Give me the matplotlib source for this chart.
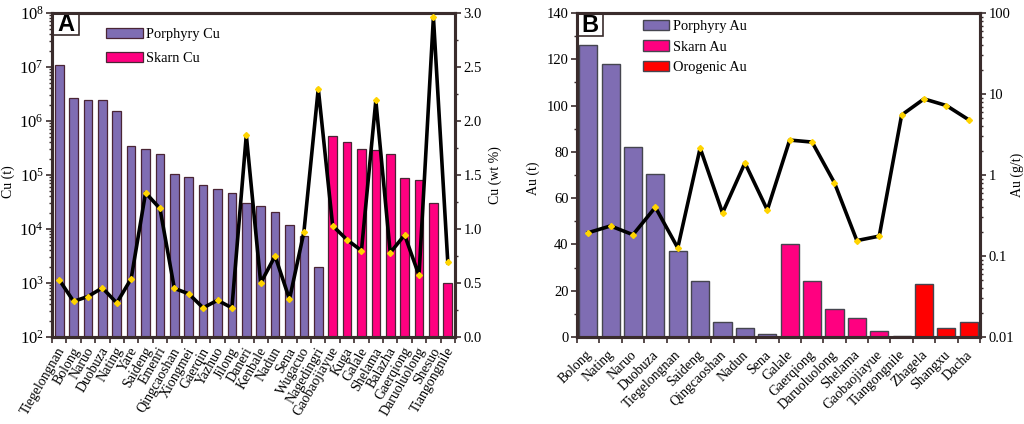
import math
import matplotlib.pyplot as plt
from matplotlib.patches import Rectangle
from matplotlib.ticker import FuncFormatter, LogLocator, MultipleLocator, NullFormatter
from matplotlib.transforms import ScaledTranslation

plt.rcParams['font.family'] = ['Liberation Serif', 'DejaVu Serif']
plt.rcParams['font.size'] = 10.5
plt.rcParams['mathtext.fontset'] = 'custom'
plt.rcParams['mathtext.rm'] = 'Liberation Serif'
plt.rcParams['mathtext.default'] = 'rm'

# --- Panel A data ---
cu_names = ["Tiegelongnan", "Bolong", "Naruo", "Duobuza", "Nating", "Yare", "Saideng",
            "Emenri", "Qingcaoshan", "Xiongmei", "Gaerqin", "Yazhuo", "Jilong", "Daneri",
            "Kenbale", "Nadun", "Sena", "Wugacuo", "Nagedingri", "Gaobaojiayue", "Kuga",
            "Galale", "Shelama", "Balazha", "Gaerqiong", "Daruoluolong", "Shesuo",
            "Tiangongnile"]
cu_porphyry = [1.1e7, 2.7e6, 2.5e6, 2.5e6, 1.55e6, 3.4e5, 3.0e5, 2.5e5, 1.03e5, 9.3e4,
               6.4e4, 5.6e4, 4.6e4, 3.0e4, 2.7e4, 2.1e4, 1.2e4, 7.3e3, 2.0e3]
cu_skarn = [5.2e5, 4.0e5, 3.0e5, 2.9e5, 2.4e5, 8.7e4, 8.0e4, 3.0e4, 1.0e3]
cu_grade = [0.53, 0.33, 0.375, 0.455, 0.315, 0.54, 1.335, 1.19, 0.45, 0.40, 0.27, 0.34,
            0.27, 1.87, 0.50, 0.75, 0.35, 0.97, 2.30, 1.03, 0.90, 0.80, 2.19, 0.78,
            0.945, 0.57, 2.96, 0.69]

# --- Panel B data ---
au_names = ["Bolong", "Nating", "Naruo", "Duobuza", "Tiegelongnan", "Saideng",
            "Qingcaoshan", "Nadun", "Sena", "Galale", "Gaerqiong", "Daruoluolong",
            "Shelama", "Gaobaojiayue", "Tiangongnile", "Zhagela", "Shangxu", "Dacha"]
au_porphyry = [126, 118, 82, 70.5, 37, 24, 6.3, 3.8, 1.2]
au_skarn = [40, 24, 12.3, 8, 2.5, 0.3]
au_orogenic = [23, 4, 6.5]
au_grade = [0.194, 0.235, 0.183, 0.40, 0.126, 2.15, 0.34, 1.41, 0.37, 2.7, 2.55, 0.80,
            0.155, 0.176, 5.5, 8.7, 7.2, 4.8]

# --- Colors ---
purple = "#7F6DB3"
pink = "#FF0080"
red = "#FF0000"
frame = "#3A2C2C"
gold = "#FFD400"

W, H = 1024, 424


def style_axes(ax, ax2):
    for a in (ax, ax2):
        for s in a.spines.values():
            s.set_linewidth(2.2)
            s.set_color(frame)
        a.tick_params(which='major', length=4, width=1.2, color=frame, pad=2, labelsize=10.5)
        a.tick_params(which='minor', length=2.5, width=1.0, color=frame)


def draw_line(ax2, x, y):
    ax2.plot(x, y, color='black', lw=2.6, marker='D', ms=3, mfc=gold, mec=gold, zorder=5)


def set_xnames(ax, names, rot, size, dx_px, dy_px):
    n = len(names)
    ax.set_xlim(-0.5, n - 0.5)
    ax.set_xticks([i + 0.5 for i in range(-1, n)])
    ax.set_xticklabels([""] + names, rotation=rot, ha='right', va='center',
                       rotation_mode='anchor', fontsize=size)
    # labels sit a little left of their ticks in the original
    shift = ScaledTranslation(dx_px / 100, dy_px / 100, fig.dpi_scale_trans)
    for lab in ax.get_xticklabels():
        lab.set_transform(lab.get_transform() + shift)


def panel_tag(ax, letter, w, h):
    ax.add_patch(Rectangle((0, 1 - h), w, h, transform=ax.transAxes, fc='white',
                           ec=frame, lw=1.2, zorder=6))
    ax.text(w / 2, 1 - h / 2 - 0.002, letter, transform=ax.transAxes, ha='center', va='center',
            family='Liberation Sans', weight='bold', fontsize=17, zorder=7)


fig = plt.figure(figsize=(W / 100, H / 100), dpi=100)

# --- Panel A ---
ax_a = fig.add_axes([52 / W, 1 - 337 / H, 403 / W, 324 / H])
ax_a2 = ax_a.twinx()
xp = list(range(len(cu_porphyry)))
xs = list(range(len(cu_porphyry), len(cu_names)))
ax_a.bar(xp, cu_porphyry, 0.6, color=purple, edgecolor="#4A2535", lw=0.9, label="Porphyry Cu")
ax_a.bar(xs, cu_skarn, 0.6, color=pink, edgecolor="#4A2535", lw=0.9, label="Skarn Cu")
ax_a.set_yscale('log')
ax_a.set_ylim(1e2, 1e8)
ax_a.yaxis.set_major_locator(LogLocator(base=10, numticks=10))
ax_a.yaxis.set_minor_locator(LogLocator(base=10, subs=range(2, 10), numticks=10))
ax_a.yaxis.set_minor_formatter(NullFormatter())
ax_a.yaxis.set_major_formatter(FuncFormatter(lambda v, p: "$10^{%d}$" % round(math.log10(v))))
draw_line(ax_a2, range(len(cu_names)), cu_grade)
ax_a2.set_ylim(0, 3)
ax_a2.yaxis.set_major_locator(MultipleLocator(0.5))
ax_a2.yaxis.set_minor_locator(MultipleLocator(0.25))
style_axes(ax_a, ax_a2)
ax_a.tick_params(axis='y', which='major', labelsize=12)
set_xnames(ax_a, cu_names, 60, 10, -4, -3)
ax_a.set_ylabel("Cu (t)", fontsize=10)
ax_a.yaxis.set_label_coords(-0.092, 0.48)
ax_a2.set_ylabel("Cu (wt %)", fontsize=10)
ax_a2.yaxis.set_label_coords(1.082, 0.5)
ax_a.legend(loc='upper left', bbox_to_anchor=(0.123, 0.966), frameon=False, fontsize=10.4,
            handlelength=2.6, handleheight=0.68, handletextpad=0.15, labelspacing=0.72,
            borderpad=0.3, borderaxespad=0)
panel_tag(ax_a, "A", 0.068, 0.068)

# --- Panel B ---
ax_b = fig.add_axes([577 / W, 1 - 337 / H, 403 / W, 324 / H])
ax_b2 = ax_b.twinx()
n1 = len(au_porphyry)
n2 = n1 + len(au_skarn)
ax_b.bar(range(n1), au_porphyry, 0.81, color=purple, edgecolor="#45454F", lw=1.0, label="Porphyry Au")
ax_b.bar(range(n1, n2), au_skarn, 0.81, color=pink, edgecolor="#45454F", lw=1.0, label="Skarn Au")
ax_b.bar(range(n2, len(au_names)), au_orogenic, 0.81, color=red, edgecolor="#45454F", lw=1.0,
         label="Orogenic Au")
ax_b.set_ylim(0, 140)
ax_b.yaxis.set_major_locator(MultipleLocator(20))
ax_b.yaxis.set_minor_locator(MultipleLocator(10))
draw_line(ax_b2, range(len(au_names)), au_grade)
ax_b2.set_yscale('log')
ax_b2.set_ylim(0.01, 100)
ax_b2.yaxis.set_major_locator(LogLocator(base=10, numticks=8))
ax_b2.yaxis.set_minor_locator(LogLocator(base=10, subs=range(2, 10), numticks=8))
ax_b2.yaxis.set_minor_formatter(NullFormatter())
ax_b2.yaxis.set_major_formatter(FuncFormatter(lambda v, p: "%g" % v))
style_axes(ax_b, ax_b2)
ax_b.tick_params(axis='x', which='major', pad=6)
set_xnames(ax_b, au_names, 45, 10, -10, -2)
ax_b.set_ylabel("Au (t)", fontsize=10)
ax_b.yaxis.set_label_coords(-0.092, 0.49)
ax_b2.set_ylabel("Au (g/t)", fontsize=10)
ax_b2.yaxis.set_label_coords(1.075, 0.5)
ax_b.legend(loc='upper left', bbox_to_anchor=(0.1525, 0.992), frameon=False, fontsize=10.4,
            handlelength=1.8, handleheight=0.72, handletextpad=0.3, labelspacing=0.5,
            borderpad=0.3, borderaxespad=0)
panel_tag(ax_b, "B", 0.065, 0.072)

fig.savefig("out.png", dpi=100)
